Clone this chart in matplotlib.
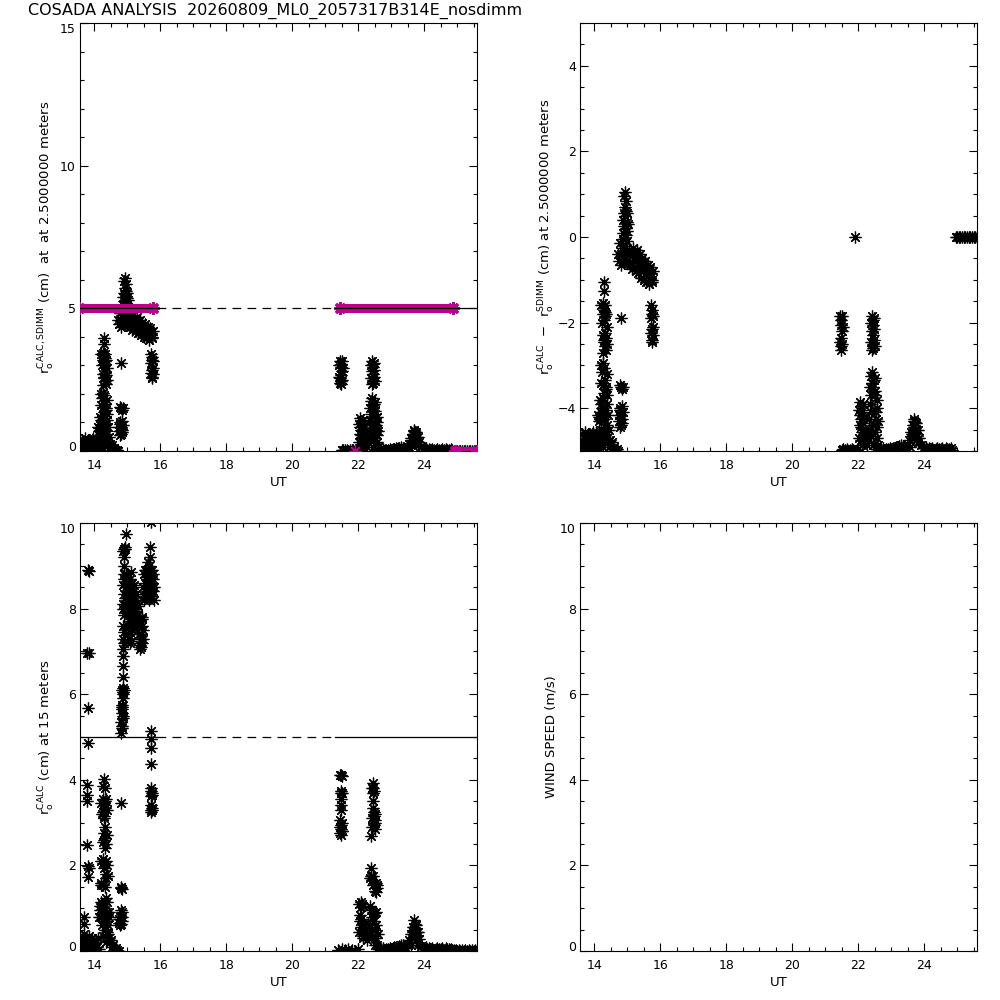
import numpy as np
import matplotlib.pyplot as plt
from matplotlib.ticker import MultipleLocator

# ---- r0 computed at 2.5 m (top panels), UT hours ----
ut_25_early = [13.60, 13.63, 13.66, 13.68, 13.70, 13.73, 13.75, 13.78, 13.80, 13.82,
               13.85, 13.88, 13.90, 13.93, 13.95, 13.98, 14.00, 14.03, 14.06, 14.08,
               14.10, 14.13, 14.12, 14.16, 14.19,
               13.62, 13.72, 13.87, 13.97, 14.05, 14.15,
               14.30, 14.30, 14.28, 14.32, 14.30, 14.27, 14.33, 14.30, 14.28, 14.32,
               14.32, 14.35, 14.30, 14.34, 14.36, 14.31, 14.27, 14.30, 14.25, 14.33,
               14.28, 14.36, 14.30, 14.26, 14.35, 14.22, 14.25, 14.20, 14.28, 14.35,
               14.31, 14.24, 14.38, 14.35, 14.40, 14.43, 14.46, 14.33,
               14.22, 14.36, 14.24, 14.38, 14.26, 14.40, 14.28, 14.22, 14.38, 14.20,
               14.40, 14.18, 14.38, 14.16, 14.42, 14.44, 14.20, 14.25, 14.30, 14.22,
               14.28,
               14.48, 14.50, 14.53, 14.56, 14.60, 14.63, 14.68, 14.72,
               14.76, 14.80, 14.78, 14.83, 14.81, 14.79, 14.80, 14.83, 14.80,
               14.74, 14.86, 14.84, 14.77, 14.85, 14.78, 14.86,
               14.93, 14.95, 14.92, 14.97, 14.94, 14.98, 14.91, 15.00, 14.95,
               14.90, 14.89, 14.96, 14.88, 15.02, 15.00, 14.86,
               14.76, 14.80, 14.84, 14.88, 14.92, 14.86, 14.78, 14.96, 15.00, 15.04, 15.08,
               15.12, 15.16, 15.20, 15.24, 15.28, 15.32, 15.36, 15.40, 15.44, 15.48,
               15.52, 15.56, 15.60, 15.64, 15.68, 15.72, 15.76,
               15.10, 15.14, 15.18, 15.22, 15.26, 15.30, 15.34, 15.38, 15.42, 15.46,
               15.50, 15.54, 15.58, 15.62, 15.66, 15.70, 15.74, 15.78, 14.82, 14.90,
               14.98, 15.06, 14.72,
               15.74, 15.76, 15.73, 15.75, 15.77, 15.74,
               15.72, 15.78, 15.72, 15.78, 15.76]
r0_25_early = [0.10, 0.25, 0.05, 0.35, 0.15, 0.45, 0.20, 0.30, 0.05, 0.40,
               0.15, 0.35, 0.10, 0.25, 0.45, 0.05, 0.30, 0.15, 0.35, 0.05,
               0.20, 0.10, 0.85, 0.80, 0.75,
               0.40, 0.02, 0.05, 0.40, 0.45, 0.30,
               3.95, 3.75, 3.45, 3.40, 3.30, 3.20, 3.15, 3.05, 3.35, 3.25,
               2.75, 2.65, 2.55, 2.45, 2.35, 2.60, 2.05, 1.95, 1.85, 1.65,
               1.55, 1.45, 1.35, 1.25, 1.50, 1.10, 1.00, 0.90, 0.85, 0.95,
               0.75, 0.80, 0.60, 0.45, 0.30, 0.20, 0.10, 0.55,
               3.40, 3.20, 3.00, 2.90, 2.70, 2.50, 2.30, 2.00, 1.80, 1.60,
               1.30, 1.20, 1.10, 0.70, 0.85, 0.50, 0.50, 0.40, 0.30, 0.20,
               0.10,
               0.25, 0.15, 0.20, 0.05, 0.10, 0.02, 0.05, 0.00,
               0.70, 0.85, 1.00, 0.75, 0.60, 0.95, 1.50, 1.45, 3.10,
               0.85, 0.90, 1.05, 0.55, 0.65, 1.55, 1.50,
               6.05, 5.85, 5.70, 5.60, 5.50, 5.35, 5.25, 5.15, 5.05,
               5.95, 5.55, 5.20, 5.10, 5.30, 5.55, 5.40,
               4.45, 4.60, 4.75, 4.55, 4.80, 4.95, 4.85, 4.65, 4.90, 4.70, 4.60,
               4.65, 4.55, 4.50, 4.60, 4.45, 4.50, 4.35, 4.40, 4.30, 4.25,
               4.30, 4.15, 4.20, 4.10, 4.05, 4.15, 4.00,
               4.35, 4.25, 4.75, 4.30, 4.20, 4.70, 4.15, 4.60, 4.05, 4.50,
               4.00, 4.45, 3.95, 4.35, 3.90, 4.30, 3.95, 4.20, 4.35, 4.40,
               4.45, 4.40, 4.60,
               3.30, 3.20, 3.10, 2.85, 2.70, 2.60,
               3.40, 3.15, 2.75, 2.90, 2.55]

ut_25_late = [21.46, 21.49, 21.47, 21.50, 21.48, 21.46, 21.49, 21.47,
              21.43, 21.53, 21.42, 21.52, 21.44, 21.51,
              22.43, 22.46, 22.44, 22.42, 22.45, 22.47, 22.44, 22.46,
              22.39, 22.49, 22.40, 22.50, 22.41, 22.48,
              22.05, 22.08, 22.12, 22.06, 22.10, 22.14, 22.07, 22.11, 22.15, 22.09,
              22.13, 22.20, 22.25, 22.30, 22.35, 22.38, 22.40, 22.43, 22.45, 22.42,
              22.48, 22.50, 22.52, 22.55, 22.53, 22.56, 22.50, 22.58, 22.60, 22.45, 22.40,
              22.03, 22.17, 22.04, 22.18, 22.02, 22.16, 22.35, 22.38, 22.33, 22.37,
              22.52, 22.56, 22.58, 22.60, 22.55, 22.28, 22.45,
              21.50, 21.55, 21.60, 21.65, 21.70, 21.75, 21.80, 21.85, 21.90, 21.95, 22.00,
              22.65, 22.70, 22.75, 22.80, 22.85, 22.90, 22.95, 23.00, 23.05, 23.10,
              23.15, 23.20, 23.25, 23.30, 23.35, 23.40, 23.45, 23.50,
              23.55, 23.60, 23.62, 23.65, 23.68, 23.70, 23.72, 23.74, 23.75, 23.78,
              23.80, 23.85, 23.90,
              23.58, 23.64, 23.70, 23.76, 23.82, 23.68, 23.72,
              23.95, 24.00, 24.05, 24.10, 24.15, 24.20, 24.25, 24.30, 24.35, 24.40,
              24.45, 24.50, 24.55, 24.60, 24.65, 24.70, 24.75, 24.80, 24.85,
              24.95, 25.00, 25.05, 25.10, 25.15, 25.20, 25.25, 25.30, 25.35, 25.40,
              25.45, 25.50, 25.55, 25.60]
r0_25_late = [3.15, 3.05, 2.95, 2.80, 2.65, 2.55, 2.45, 2.35,
              3.00, 2.90, 2.60, 2.50, 2.40, 3.15,
              3.15, 3.05, 2.95, 2.80, 2.70, 2.60, 2.50, 2.40,
              3.00, 2.85, 2.55, 2.45, 2.35, 3.10,
              1.15, 1.05, 0.95, 0.85, 0.75, 0.65, 0.55, 0.45, 0.35, 0.25,
              0.15, 0.50, 0.40, 0.30, 1.10, 0.90, 1.75, 1.60, 1.50, 1.85,
              1.65, 1.40, 1.30, 0.90, 0.75, 0.55, 0.45, 0.30, 0.15, 0.60, 0.35,
              0.95, 0.80, 0.60, 0.40, 0.30, 1.10, 1.50, 1.30, 0.75, 0.50,
              1.70, 1.20, 1.00, 0.70, 0.05, 0.15, 0.15,
              0.03, 0.05, 0.02, 0.04, 0.00, 0.03, 0.05, 0.02, 0.00, 0.03, 0.04,
              0.08, 0.05, 0.06, 0.03, 0.05, 0.04, 0.06, 0.05, 0.07, 0.08,
              0.10, 0.09, 0.12, 0.14, 0.12, 0.10, 0.08, 0.15,
              0.25, 0.45, 0.35, 0.60, 0.55, 0.75, 0.45, 0.25, 0.65, 0.35,
              0.50, 0.30, 0.15,
              0.10, 0.40, 0.60, 0.50, 0.20, 0.70, 0.68,
              0.08, 0.06, 0.10, 0.05, 0.07, 0.04, 0.08, 0.03, 0.05, 0.06,
              0.04, 0.05, 0.07, 0.03, 0.08, 0.05, 0.04, 0.06, 0.02,
              0.00, 0.00, 0.00, 0.00, 0.00, 0.00, 0.00, 0.00, 0.00, 0.00,
              0.00, 0.00, 0.00, 0.00]

# ---- r0 computed at 15 m (bottom left) ----
ut_15_early = [13.60, 13.63, 13.65, 13.68, 13.70, 13.72, 13.75, 13.78, 13.80, 13.83,
               13.86, 13.88, 13.91, 13.94, 13.97, 14.00, 14.03, 14.06, 14.09, 14.12,
               14.15, 13.70, 13.70,
               13.80, 13.84, 13.78, 13.84, 13.82, 13.80, 13.78, 13.78, 13.78, 13.78,
               13.80, 13.84, 13.82,
               14.30, 14.28, 14.32, 14.27, 14.30, 14.33, 14.28, 14.31, 14.34, 14.29,
               14.32, 14.33, 14.30, 14.34, 14.31, 14.35, 14.33, 14.28, 14.26, 14.30,
               14.35, 14.37, 14.35, 14.22, 14.27, 14.33, 14.36, 14.20, 14.23, 14.25,
               14.18, 14.22, 14.26, 14.30, 14.35, 14.40, 14.38, 14.45, 14.42,
               14.22, 14.38, 14.24, 14.36, 14.40, 14.26, 14.22, 14.38, 14.42, 14.20,
               14.40, 14.18, 14.30, 14.16, 14.28, 14.34, 14.44, 14.25, 14.32, 14.38,
               14.28, 14.35,
               14.42, 14.45, 14.48, 14.52, 14.55, 14.58, 14.62, 14.66, 14.70, 14.75,
               14.75, 14.78, 14.80, 14.83, 14.85, 14.79, 14.82, 14.85, 14.80,
               14.76, 14.84, 14.82, 14.80,
               14.82, 14.84, 14.82, 14.86, 14.83, 14.85, 14.84, 14.87, 14.88, 14.90,
               14.86, 14.88, 14.87, 14.86, 14.88, 14.87, 14.88, 14.90, 14.88, 14.89,
               14.88, 14.90, 14.91, 14.90, 14.91, 14.93, 14.95,
               14.84, 14.86, 14.83, 14.87, 14.85, 14.89, 14.90, 14.86, 14.92, 14.89,
               14.87, 14.92,
               14.95, 14.98, 15.00, 15.02, 15.05, 15.04, 15.07, 15.10, 15.12, 15.10,
               15.13, 15.15, 15.12, 15.18, 15.20, 15.22, 15.25, 15.22, 15.26, 15.28,
               15.30, 15.32, 15.30, 15.18, 15.08,
               14.96, 15.00, 15.03, 15.06, 15.09, 15.11, 15.14, 15.16, 15.19, 15.21,
               15.24, 15.27, 15.29, 15.33, 15.02, 15.10, 15.14, 15.06,
               15.36, 15.38, 15.40, 15.42, 15.45, 15.44, 15.48, 15.46, 15.40,
               15.37, 15.41, 15.43, 15.47, 15.44,
               15.48, 15.50, 15.52, 15.55, 15.57, 15.60, 15.62, 15.63, 15.65, 15.67,
               15.69, 15.70, 15.72, 15.74, 15.76, 15.78, 15.80, 15.75, 15.79,
               15.50, 15.53, 15.58, 15.61, 15.64, 15.66, 15.71, 15.73, 15.77, 15.81,
               15.68, 15.56,
               15.73,
               15.73, 15.73, 15.73, 15.73, 15.72, 15.74, 15.73, 15.72, 15.74, 15.73,
               15.71, 15.75, 15.71, 15.75]
r0_15_early = [0.15, 0.35, 0.05, 0.25, 0.40, 0.10, 0.30, 0.20, 0.05, 0.35,
               0.15, 0.25, 0.05, 0.30, 0.15, 0.20, 0.05, 0.25, 0.10, 0.30,
               0.05, 0.80, 0.62,
               8.90, 8.88, 6.96, 6.96, 5.68, 4.85, 3.88, 3.65, 3.50, 2.48,
               1.98, 1.95, 1.72,
               4.02, 3.85, 3.80, 3.55, 3.45, 3.35, 3.25, 3.15, 3.40, 3.10,
               3.50, 2.90, 2.75, 2.65, 2.60, 2.50, 2.40, 2.15, 2.05, 1.95,
               2.10, 1.80, 1.70, 1.60, 1.55, 1.50, 1.23, 1.15, 1.10, 1.05,
               0.95, 0.80, 0.90, 0.75, 0.85, 0.70, 0.90, 0.80, 0.60,
               3.45, 3.30, 3.20, 3.55, 2.70, 2.55, 2.10, 2.00, 1.75, 1.55,
               1.15, 1.05, 1.10, 0.80, 0.95, 0.70, 0.90, 0.60, 0.50, 0.45,
               0.35, 0.20,
               0.40, 0.30, 0.20, 0.25, 0.10, 0.15, 0.05, 0.08, 0.02, 0.00,
               0.65, 0.80, 0.95, 0.70, 0.90, 0.60, 1.48, 1.45, 3.45,
               0.75, 0.80, 0.62, 1.50,
               5.10, 5.25, 5.35, 5.45, 5.55, 5.65, 5.75, 5.90, 6.05, 6.10,
               6.15, 6.40, 6.65, 6.90, 7.05, 7.30, 7.60, 7.85, 8.10, 8.35,
               8.55, 8.80, 9.00, 9.20, 9.40, 9.45, 9.75,
               5.20, 5.50, 5.70, 6.00, 6.10, 7.20, 7.45, 8.00, 8.25, 8.70,
               9.35, 9.40,
               8.50, 8.20, 7.90, 7.60, 7.30, 8.05, 8.40, 8.70, 8.85, 8.10,
               7.80, 7.50, 7.25, 8.00, 8.30, 8.55, 8.20, 7.90, 7.70, 8.00,
               7.60, 7.85, 8.10, 7.60, 7.70,
               8.80, 8.40, 8.15, 7.85, 7.45, 8.30, 8.05, 7.75, 8.40, 7.70,
               7.95, 8.35, 7.85, 8.05, 7.40, 7.20, 8.60, 8.60,
               7.40, 7.15, 7.05, 7.30, 7.60, 7.20, 7.50, 7.80, 7.70,
               7.60, 7.40, 7.10, 7.30, 7.75,
               8.50, 8.80, 8.30, 8.60, 8.90, 8.40, 8.70, 9.10, 8.20, 8.80,
               9.20, 9.45, 8.60, 8.30, 8.50, 8.40, 8.20, 8.90, 8.70,
               8.20, 8.90, 8.30, 8.90, 8.50, 9.00, 8.90, 8.40, 8.80, 8.50,
               8.30, 8.75,
               10.02,
               5.15, 4.95, 4.75, 4.37, 3.80, 3.70, 3.62, 3.40, 3.30, 3.25,
               3.75, 3.65, 3.30, 3.35]

ut_15_late = [21.47, 21.50, 21.48, 21.47, 21.49, 21.48, 21.47, 21.46, 21.49, 21.47,
              21.50, 21.48,
              21.45, 21.52, 21.45, 21.52, 21.44, 21.52,
              22.45, 22.43, 22.47, 22.45, 22.46, 22.44, 22.47, 22.48, 22.50, 22.49,
              22.51, 22.40,
              22.42, 22.52, 22.43, 22.52, 22.44,
              22.40, 22.38, 22.42, 22.45, 22.55, 22.57, 22.55, 22.08, 22.12, 22.10,
              22.35, 22.45, 22.55, 22.50, 22.06, 22.10, 22.14, 22.08, 22.12, 22.16,
              22.20, 22.25, 22.30, 22.35, 22.40, 22.45, 22.52, 22.55, 22.58, 22.60,
              22.28,
              22.03, 22.15, 22.04, 22.18, 22.02, 22.14, 22.35, 22.45, 22.58, 22.52,
              22.38, 22.42, 22.48, 22.33, 22.55, 22.60, 22.50,
              21.40, 21.50, 21.60, 21.70, 21.80, 21.90, 22.00,
              22.65, 22.70, 22.75, 22.80, 22.85, 22.90, 22.95, 23.00, 23.05, 23.10,
              23.15, 23.20, 23.25, 23.30, 23.35, 23.40, 23.45, 23.50,
              23.55, 23.60, 23.62, 23.65, 23.68, 23.70, 23.72, 23.74, 23.76, 23.78,
              23.80, 23.85, 23.90,
              23.60, 23.66, 23.72, 23.78, 23.82, 23.70,
              23.95, 24.00, 24.05, 24.10, 24.15, 24.20, 24.25, 24.30, 24.35, 24.40,
              24.45, 24.50, 24.55, 24.60, 24.65, 24.70, 24.75, 24.80, 24.85, 24.90,
              24.95, 25.00, 25.05, 25.10, 25.15, 25.20, 25.25, 25.30, 25.35, 25.40,
              25.45, 25.50, 25.55, 25.60]
r0_15_late = [4.12, 4.10, 3.75, 3.68, 3.55, 3.40, 3.30, 3.05, 2.95, 2.85,
              2.80, 2.70,
              2.90, 3.00, 2.75, 2.80, 4.12, 3.70,
              3.93, 3.80, 3.75, 3.70, 3.50, 3.35, 3.25, 3.15, 3.05, 2.95,
              2.85, 2.69,
              3.10, 3.00, 2.90, 3.20, 3.80,
              1.95, 1.75, 1.65, 1.55, 1.60, 1.48, 1.38, 1.15, 1.10, 1.02,
              1.05, 0.90, 0.90, 0.88, 0.85, 0.75, 0.65, 0.55, 0.45, 0.35,
              0.50, 0.40, 0.65, 0.55, 0.45, 0.35, 0.50, 0.30, 0.15, 0.05,
              0.25,
              1.10, 1.05, 0.70, 0.60, 0.45, 0.30, 1.70, 1.75, 1.55, 1.40,
              0.95, 0.80, 0.70, 0.35, 0.60, 0.40, 0.15,
              0.03, 0.04, 0.02, 0.05, 0.03, 0.00, 0.04,
              0.06, 0.04, 0.07, 0.03, 0.05, 0.04, 0.06, 0.05, 0.07, 0.09,
              0.10, 0.08, 0.12, 0.14, 0.13, 0.10, 0.07, 0.15,
              0.25, 0.40, 0.30, 0.55, 0.50, 0.72, 0.45, 0.25, 0.60, 0.35,
              0.45, 0.28, 0.12,
              0.15, 0.45, 0.62, 0.45, 0.15, 0.55,
              0.07, 0.05, 0.09, 0.05, 0.06, 0.04, 0.07, 0.03, 0.05, 0.06,
              0.04, 0.05, 0.06, 0.03, 0.07, 0.05, 0.04, 0.05, 0.03, 0.02,
              0.02, 0.01, 0.02, 0.01, 0.02, 0.01, 0.02, 0.01, 0.02, 0.01,
              0.02, 0.01, 0.02, 0.01]

# ---- SDIMM r0 runs (start UT, end UT, value) and single dropout ----
sdimm_start = [13.55, 21.45, 24.93]
sdimm_end = [15.78, 24.86, 25.60]
sdimm_r0 = [5.0, 5.0, 0.0]
sdimm_drop_ut = [21.90]
sdimm_drop_r0 = [0.0]

# reference line at 5 cm, dashed across the gap with no data
ref_r0 = 5.0
ref_gap = [15.90, 21.30]

# axis ticks
x_ticks = [14, 16, 18, 20, 22, 24]
y_ticks_tl = [0, 5, 10, 15]
y_ticks_tr = [-4, -2, 0, 2, 4]
y_ticks_b = [0, 2, 4, 6, 8, 10]

title = "COSADA ANALYSIS  20260809_ML0_2057317B314E_nosdimm"
xlim = (13.57, 25.60)

ut25 = np.array(ut_25_early + ut_25_late)
r025 = np.array(r0_25_early + r0_25_late)
ut15 = np.array(ut_15_early + ut_15_late)
r015 = np.array(r0_15_early + r0_15_late)


def sdimm_at(t):
    for td, vd in zip(sdimm_drop_ut, sdimm_drop_r0):
        if abs(t - td) < 0.005:
            return vd
    for a, b, v in zip(sdimm_start, sdimm_end, sdimm_r0):
        if a <= t <= b:
            return v
    return np.nan


sd25 = np.array([sdimm_at(t) for t in ut25])
ok = ~np.isnan(sd25)
diff_ut = ut25[ok]
diff_r0 = r025[ok] - sd25[ok]

plt.rcParams['font.family'] = 'DejaVu Sans'
star = (8, 2, 0)
magenta = '#c0008c'
ms, mew = 8.5, 0.9

fig = plt.figure(figsize=(10, 10), dpi=100)
W, H = 0.397, 0.428
ax1 = fig.add_axes([0.080, 0.549, W, H])
ax2 = fig.add_axes([0.580, 0.549, W, H])
ax3 = fig.add_axes([0.080, 0.049, W, H])
ax4 = fig.add_axes([0.580, 0.049, W, H])


def idl_axes(ax, ylim, yticks, ymin, ylabel):
    ax.set_xlim(*xlim)
    ax.set_xticks(x_ticks)
    ax.xaxis.set_minor_locator(MultipleLocator(0.5))
    ax.set_yticks(yticks)
    ax.set_ylim(*ylim)
    ax.yaxis.set_minor_locator(MultipleLocator(ymin))
    ax.tick_params(which='both', direction='in', top=True, right=True,
                   width=0.8, labelsize=9)
    ax.tick_params(which='major', length=6)
    ax.tick_params(which='minor', length=3)
    ax.tick_params(axis='y', pad=3)
    ax.tick_params(axis='x', pad=6)
    for s in ax.spines.values():
        s.set_linewidth(0.8)
    ax.set_xlabel('UT', fontsize=9.5)
    ax.xaxis.set_label_coords(0.5, -0.058)
    ax.set_ylabel(ylabel, fontsize=9.5)
    ax.yaxis.set_label_coords(-0.057, 0.5)
    # IDL keeps the end labels inside the axis range
    for val, tick in zip(yticks, ax.yaxis.get_major_ticks()):
        if val == ylim[0]:
            tick.label1.set_va('baseline')
        elif val == ylim[1]:
            tick.label1.set_va('top')


def ref_line(ax):
    ax.plot([xlim[0], ref_gap[0]], [ref_r0, ref_r0], color='black', lw=0.9, zorder=4)
    ax.plot([ref_gap[0], ref_gap[1]], [ref_r0, ref_r0], color='black', lw=0.9,
            dashes=(7, 5), zorder=4)
    ax.plot([ref_gap[1], xlim[1]], [ref_r0, ref_r0], color='black', lw=0.9, zorder=4)


# top left
ax1.plot(ut25, r025, ls='none', marker=star, ms=ms, mew=mew, color='black', zorder=2)
for a, b, v in zip(sdimm_start, sdimm_end, sdimm_r0):
    ax1.plot([a, b], [v, v], color=magenta, lw=6.5, solid_capstyle='butt', zorder=3)
    ax1.plot([a, b], [v, v], ls='none', marker=star, ms=9, mew=2.2, color=magenta, zorder=3)
ax1.plot(sdimm_drop_ut, sdimm_drop_r0, ls='none', marker=star, ms=ms, mew=mew,
         color=magenta, zorder=3)
ref_line(ax1)
idl_axes(ax1, (0, 15), y_ticks_tl, 1,
         r'r$_{\rm o}^{\rm CALC,SDIMM}$ (cm)  at  at 2.5000000 meters')

# top right
ax2.plot(diff_ut, diff_r0, ls='none', marker=star, ms=ms, mew=mew, color='black')
idl_axes(ax2, (-5, 5), y_ticks_tr, 0.5,
         r'r$_{\rm o}^{\rm CALC}$  $-$  r$_{\rm o}^{\rm SDIMM}$ (cm) at 2.5000000 meters')

# bottom left
ax3.plot(ut15, r015, ls='none', marker=star, ms=ms, mew=mew, color='black', zorder=2)
ref_line(ax3)
idl_axes(ax3, (0, 10), y_ticks_b, 0.5, r'r$_{\rm o}^{\rm CALC}$ (cm) at 15 meters')

# bottom right (no wind data)
idl_axes(ax4, (0, 10), y_ticks_b, 0.5, 'WIND SPEED (m/s)')

fig.text(0.028, 0.989, title, fontsize=11.5, va='center', ha='left')

fig.savefig('out.png', dpi=100)
